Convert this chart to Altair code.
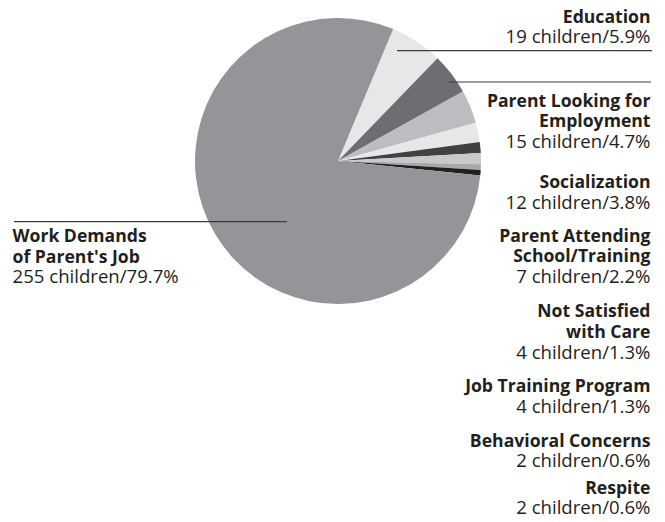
import math
import altair as alt
import pandas as pd

# ---- data ----
categories = ["Education", "Parent Looking for Employment", "Socialization",
              "Parent Attending School/Training", "Not Satisfied with Care",
              "Job Training Program", "Behavioral Concerns", "Respite",
              "Work Demands of Parent's Job"]
children = [19, 15, 12, 7, 4, 4, 2, 2, 255]
percents = ["5.9", "4.7", "3.8", "2.2", "1.3", "1.3", "0.6", "0.6", "79.7"]
bold_lines = [["Education"], ["Parent Looking for", "Employment"], ["Socialization"],
              ["Parent Attending", "School/Training"], ["Not Satisfied", "with Care"],
              ["Job Training Program"], ["Behavioral Concerns"], ["Respite"],
              ["Work Demands", "of Parent's Job"]]

# ---- styles / layout ----
colors = ["#e6e7e8", "#6d6e71", "#bcbdc0", "#e6e7e8", "#414042",
          "#c8c9cb", "#a7a9ac", "#231f20", "#939598"]
M = 8  # page margin
cx, cy, R = 338 - M, 161 - M, 143
start = math.radians(22.7)
label_first_baseline = [22.5, 106.7, 188, 241.7, 316.7, 391.7, 446.7, 494, 241.7]
label_line_h = [20.5, 20.7, 20.5, 20.7, 21, 21, 20.5, 19.5, 20.8]
label_x = [650.5] * 8 + [12.5]
label_align = ["right"] * 8 + ["left"]
FONT = "Open Sans"

pie_df = pd.DataFrame({"category": categories, "children": children,
                       "idx": list(range(len(categories)))})

rows = []
for i, cat in enumerate(categories):
    y = label_first_baseline[i]
    for ln in bold_lines[i]:
        rows.append({"text": ln, "px": label_x[i] - M, "py": y - M,
                     "al": label_align[i], "w": "bold"})
        y += label_line_h[i]
    rows.append({"text": f"{children[i]} children/{percents[i]}%", "px": label_x[i] - M,
                 "py": y - M, "al": label_align[i], "w": "normal"})
lab_df = pd.DataFrame(rows)

rule_df = pd.DataFrame({"x1": [397 - M, 449 - M, 14 - M],
                        "x2": [652 - M, 651 - M, 287 - M],
                        "y": [50.7 - M, 82 - M, 221.7 - M]})

pie = alt.Chart(pie_df).mark_arc(outerRadius=R, stroke=None).encode(
    theta=alt.Theta("children:Q", stack=True,
                    scale=alt.Scale(range=[start, start + 2 * math.pi])),
    order=alt.Order("idx:Q"),
    color=alt.Color("category:N", scale=alt.Scale(domain=categories, range=colors),
                    legend=None),
    x=alt.value(cx), y=alt.value(cy),
)

rules = alt.Chart(rule_df).mark_rule(color="#3c3c3c", strokeWidth=1.2).encode(
    x=alt.X("x1:Q", scale=None), x2="x2:Q", y=alt.Y("y:Q", scale=None))

def text_layer(weight, align, size):
    d = lab_df[(lab_df["w"] == weight) & (lab_df["al"] == align)]
    return alt.Chart(d).mark_text(align=align, baseline="alphabetic", font=FONT,
                                  fontSize=size, fontWeight=weight, color="#231f20").encode(
        x=alt.X("px:Q", scale=None), y=alt.Y("py:Q", scale=None), text="text:N")

layers = [pie, rules]
for a in ["right", "left"]:
    layers.append(text_layer("bold", a, 17.6))
    layers.append(text_layer("normal", a, 18.6))

chart = alt.layer(*layers).properties(
    width=665 - 2 * M, height=522 - 2 * M, padding=0,
    autosize=alt.AutoSizeParams(type="none"), background="white"
).configure_view(stroke=None)

chart.save("out.html", embed_options={"renderer": "svg", "actions": False})
